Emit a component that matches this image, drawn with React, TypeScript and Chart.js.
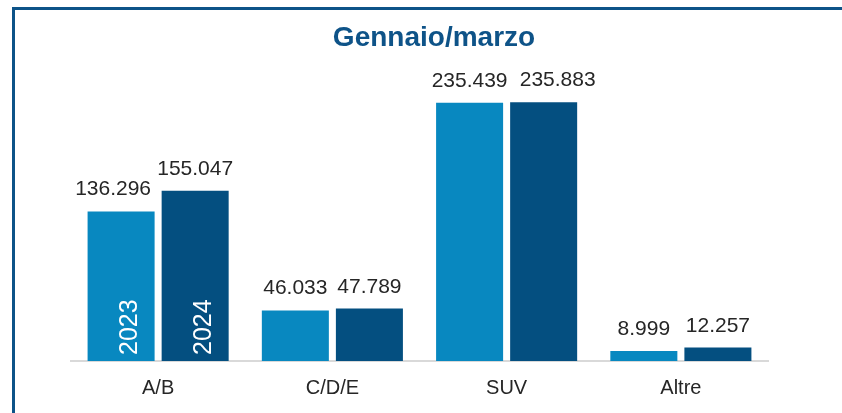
import React, { useEffect, useRef } from "react";
import { Chart, registerables } from "chart.js";

Chart.register(...registerables);

const categories = ["A/B", "C/D/E", "SUV", "Altre"];
const seriesNames = ["2023", "2024"];
const values2023 = [136296, 46033, 235439, 8999];
const values2024 = [155047, 47789, 235883, 12257];
const titleText = "Gennaio/marzo";

const FONT = '"Liberation Sans", Arial, sans-serif';
const fmt = (v: number) => v.toLocaleString("de-DE");

const labelShift = (di: number, i: number) => {
  if (di === 0 && i === 0) return -8;
  if (di === 1 && i === 2) return 14;
  return 0;
};

const overlayPlugin = {
  id: "overlay",
  afterDatasetsDraw(chart: any) {
    const ctx = chart.ctx;
    ctx.save();
    // title
    ctx.fillStyle = "#0e5388";
    ctx.font = `bold 28px ${FONT}`;
    ctx.textAlign = "center";
    ctx.textBaseline = "alphabetic";
    ctx.fillText(titleText, 434, 46);

    // value labels
    ctx.fillStyle = "#262626";
    ctx.font = `21px ${FONT}`;
    chart.data.datasets.forEach((ds: any, di: number) => {
      const meta = chart.getDatasetMeta(di);
      meta.data.forEach((bar: any, i: number) => {
        ctx.textAlign = "center";
        ctx.fillText(fmt(ds.data[i]), bar.x + labelShift(di, i), bar.y - 16);
      });
    });

    // year labels inside first group
    ctx.fillStyle = "#ffffff";
    ctx.font = `25px ${FONT}`;
    const base = chart.chartArea.bottom;
    chart.data.datasets.forEach((ds: any, di: number) => {
      const bar = chart.getDatasetMeta(di).data[0];
      ctx.save();
      ctx.translate(bar.x + 16, base - 6);
      ctx.rotate(-Math.PI / 2);
      ctx.textAlign = "left";
      ctx.textBaseline = "alphabetic";
      ctx.fillText(ds.label, 0, 0);
      ctx.restore();
    });
    ctx.restore();
  },
};

export default function App() {
  const ref = useRef<HTMLCanvasElement>(null);
  useEffect(() => {
    if (!ref.current) return;
    const chart = new Chart(ref.current, {
      type: "bar",
      data: {
        labels: categories,
        datasets: [
          {
            label: seriesNames[0],
            data: values2023,
            backgroundColor: "#0888c0",
            categoryPercentage: 0.85,
            barPercentage: 0.905,
          },
          {
            label: seriesNames[1],
            data: values2024,
            backgroundColor: "#044f80",
            categoryPercentage: 0.85,
            barPercentage: 0.905,
          },
        ],
      },
      options: {
        animation: false,
        responsive: false,
        maintainAspectRatio: false,
        layout: { padding: { left: 71, right: 74, top: 85, bottom: -2 } },
        plugins: {
          legend: { display: false },
          title: { display: false },
          tooltip: { enabled: false },
        },
        scales: {
          y: { display: false, min: 0, max: 251500 },
          x: {
            grid: { display: true, color: "transparent", drawTicks: false },
            border: { display: true, color: "#d9d9d9", width: 2 },
            ticks: {
              color: "#262626",
              font: { family: FONT, size: 20 },
              padding: 15,
            },
          },
        },
      },
      plugins: [overlayPlugin],
    });
    return () => chart.destroy();
  }, []);

  return (
    <div style={{ position: "absolute", left: 0, top: 0, width: 842, height: 413, background: "#fff" }}>
      <div
        style={{
          position: "absolute",
          left: 12,
          top: 7,
          width: 830,
          height: 406,
          borderLeft: "3px solid #0d5388",
          borderTop: "3px solid #0d5388",
          boxSizing: "border-box",
        }}
      />
      <canvas ref={ref} width={842} height={413} style={{ position: "absolute", left: 0, top: 0 }} />
    </div>
  );
}
